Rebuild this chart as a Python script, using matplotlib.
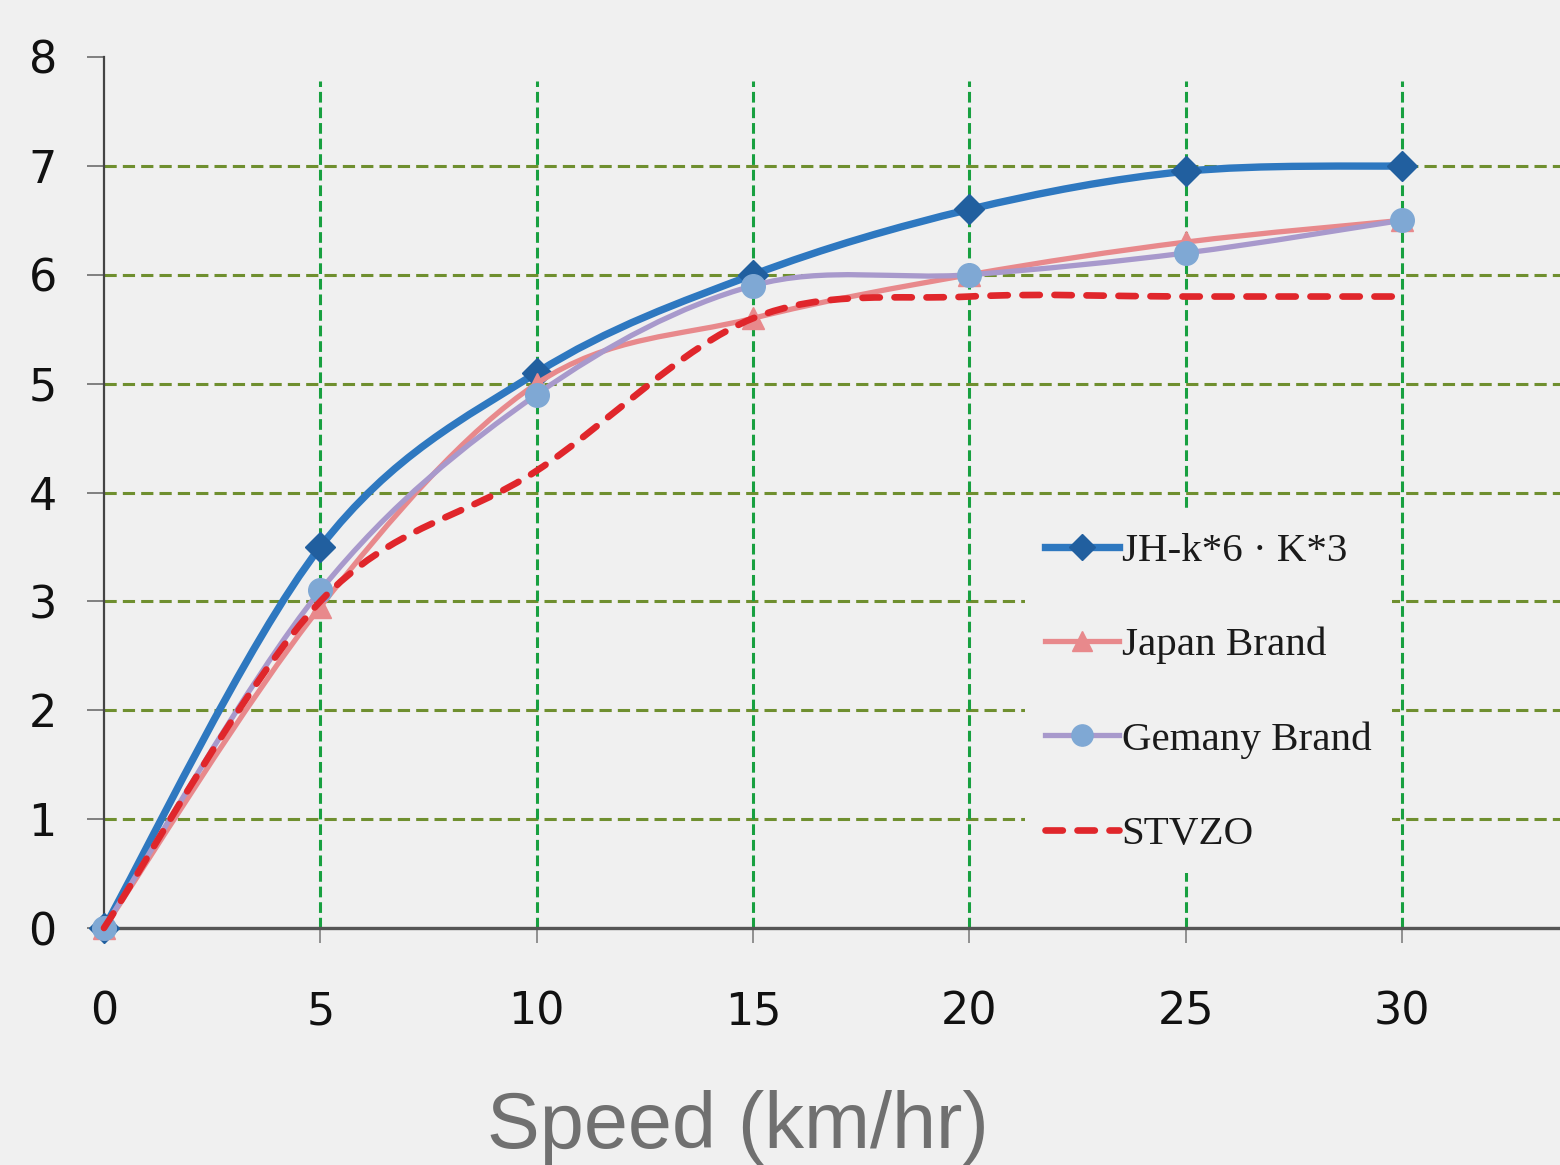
import matplotlib
matplotlib.use('Agg')
import matplotlib.pyplot as plt
from matplotlib.path import Path
from matplotlib.patches import PathPatch
from matplotlib.lines import Line2D

speed = [0, 5, 10, 15, 20, 25, 30]
jh = [0, 3.5, 5.1, 6.0, 6.6, 6.95, 7.0]
japan = [0, 2.95, 5.0, 5.6, 6.0, 6.3, 6.5]
germany = [0, 3.1, 4.9, 5.9, 6.0, 6.2, 6.5]
stvzo = [0, 3.0, 4.2, 5.6, 5.8, 5.8, 5.8]

names = ['JH-k*6 \u00b7 K*3', 'Japan Brand', 'Gemany Brand', 'STVZO']
x_ticks = [0, 5, 10, 15, 20, 25, 30]
y_ticks = [0, 1, 2, 3, 4, 5, 6, 7, 8]

bg = '#f0f0f0'


def smooth_path(xs, ys):
    # excel-like smoothed line, catmull-rom turned into bezier pieces
    pts = list(zip(xs, ys))
    n = len(pts)
    verts = [pts[0]]
    codes = [Path.MOVETO]
    for i in range(n - 1):
        p0 = pts[max(i - 1, 0)]
        p1 = pts[i]
        p2 = pts[i + 1]
        p3 = pts[min(i + 2, n - 1)]
        c1 = (p1[0] + (p2[0] - p0[0]) / 6, p1[1] + (p2[1] - p0[1]) / 6)
        c2 = (p2[0] - (p3[0] - p1[0]) / 6, p2[1] - (p3[1] - p1[1]) / 6)
        verts += [c1, c2, p2]
        codes += [Path.CURVE4] * 3
    return Path(verts, codes)


fig = plt.figure(figsize=(15.6, 11.65), dpi=100, facecolor=bg)
ax = fig.add_axes([104 / 1560, 1 - 928 / 1165, 1 - 104 / 1560, 871 / 1165])
ax.set_facecolor(bg)
ax.set_xlim(0, 33.65)
ax.set_ylim(0, 8)

for yv in y_ticks[1:-1]:
    ax.axhline(yv, color='#6f8f2f', lw=2.2, ls=(0, (4, 2)), zorder=1)
ax.vlines(x_ticks[1:], 0, 7.78, color='#18a040', lw=2.2, ls=(0, (3.5, 1.6)), zorder=1)

styles = [
    dict(color='#2e78c0', lw=5.3, marker='D', mfc='#215f9f', mec='#215f9f', ms=15),
    dict(color='#e8898c', lw=3.8, marker='^', mfc='#e8898c', mec='#e8898c', ms=16),
    dict(color='#a899cc', lw=3.8, marker='o', mfc='#7fa8d4', mec='#7fa8d4', ms=17),
    dict(color='#e0262b', lw=4.8, marker=None, mfc='none', mec='none', ms=0),
]
series = [jh, japan, germany, stvzo]

handles = []
for k, (vals, st) in enumerate(zip(series, styles)):
    ls = (0, (2.6, 2.2)) if k == 3 else '-'
    patch = PathPatch(smooth_path(speed, vals), fill=False, edgecolor=st['color'],
                      lw=st['lw'], ls=ls, capstyle='round', joinstyle='round',
                      zorder=3 + k, clip_on=False)
    ax.add_patch(patch)
    if st['marker']:
        ax.plot(speed, vals, ls='none', marker=st['marker'], ms=st['ms'],
                mfc=st['mfc'], mec=st['mec'], zorder=3.5 + k, clip_on=False)
    handles.append(Line2D([], [], color=st['color'], lw=st['lw'], ls=ls,
                          marker=st['marker'], ms=st['ms'] * 0.9,
                          mfc=st['mfc'], mec=st['mec'], dash_capstyle='round'))

leg = ax.legend(handles, names, loc='upper left', bbox_to_anchor=(0.6325, 0.4775),
                prop={'family': 'Liberation Serif', 'size': 29.5}, frameon=True,
                facecolor=bg, edgecolor='none', framealpha=1, numpoints=1,
                handlelength=1.8, handletextpad=0.06, labelspacing=1.38,
                borderpad=0.5, borderaxespad=0)
leg.set_zorder(2)
for t in leg.get_texts():
    t.set_color('#1a1a1a')

for side in ['top', 'right']:
    ax.spines[side].set_visible(False)
ax.spines['left'].set_color('#444444')
ax.spines['left'].set_linewidth(1.6)
ax.spines['bottom'].set_color('#555555')
ax.spines['bottom'].set_linewidth(2.4)

ax.set_xticks(x_ticks)
ax.set_yticks(y_ticks)
ax.tick_params(axis='x', direction='out', length=11, width=1.3, color='#888888',
               pad=34, labelsize=32, labelcolor='#111111')
ax.tick_params(axis='y', direction='out', length=12, width=1.3, color='#777777',
               pad=22, labelsize=32, labelcolor='#111111')

fig.text(738 / 1560, 1 - 1148 / 1165, 'Speed (km/hr)', ha='center', va='baseline',
         fontsize=57, color='#707070', family='Liberation Sans')

fig.savefig('out.png', dpi=100, facecolor=bg)
